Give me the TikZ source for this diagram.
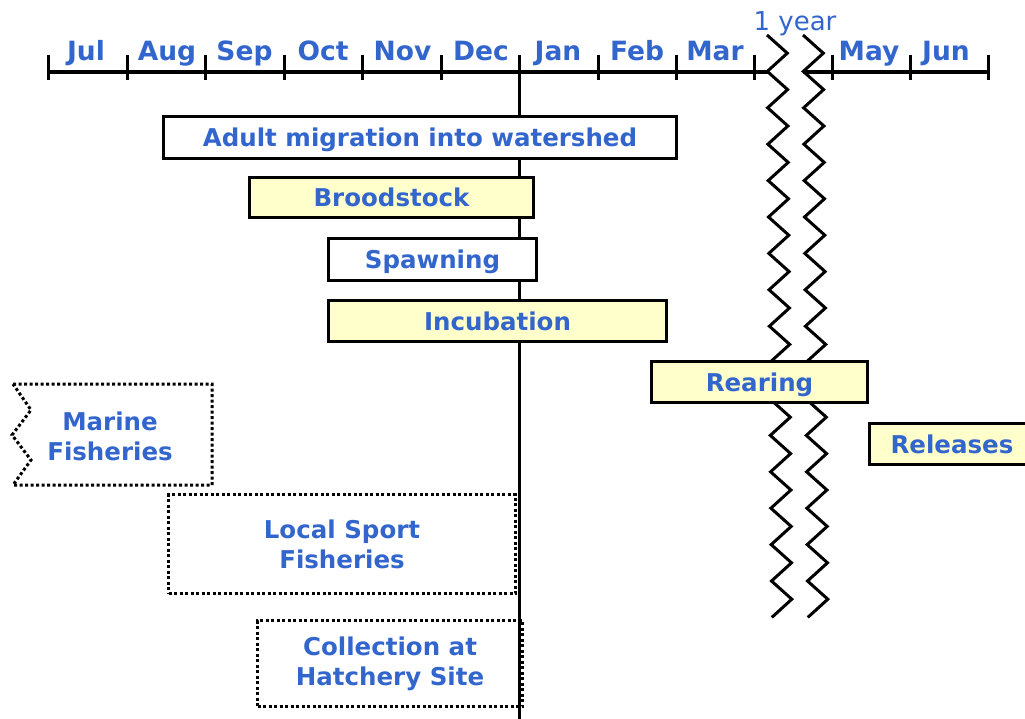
\documentclass[tikz,border=0pt]{standalone}
\usepackage{fontspec}
\setmainfont{DejaVu Sans}
\usepackage{xcolor}
\definecolor{labelblue}{RGB}{51,102,204}
\definecolor{paleyellow}{RGB}{255,255,204}

\begin{document}
\begin{tikzpicture}[x=1pt,y=-1pt,line cap=butt,line join=miter,
  font=\fontsize{24.5}{30}\selectfont\bfseries,
  month/.style={anchor=base,text=labelblue,inner sep=0pt,font=\fontsize{26.5}{30}\selectfont\bfseries},
  phase/.style={draw=black,line width=3.3pt,fill=white,text=labelblue,inner sep=0pt,text height=18pt,text depth=0pt},
  hatch/.style={phase,fill=paleyellow},
  dots/.style={line width=3pt,dash pattern=on 3pt off 2.5pt},
  catchbox/.style={dots,draw=black,text=labelblue,align=center,inner sep=0pt}]
\clip (0,0) rectangle (1025,719);
% time axis
\coordinate (axisL) at (48,72);
\coordinate (breakL) at (768,72);
\coordinate (breakR) at (803,72);
\coordinate (axisR) at (988,72);
\draw[line width=3.3pt] (axisL) -- (breakL);
\draw[line width=3.3pt] (breakR) -- (axisR);
\draw[line width=3pt] (48,55) -- (48,80);
\draw[line width=3pt] (127,55) -- (127,80);
\draw[line width=3pt] (205,55) -- (205,80);
\draw[line width=3pt] (284,55) -- (284,80);
\draw[line width=3pt] (362,55) -- (362,80);
\draw[line width=3pt] (441,55) -- (441,80);
\draw[line width=3pt] (598,55) -- (598,80);
\draw[line width=3pt] (676,55) -- (676,80);
\draw[line width=3pt] (754,55) -- (754,80);
\draw[line width=3pt] (832,55) -- (832,80);
\draw[line width=3pt] (910,55) -- (910,80);
\draw[line width=3pt] (988,55) -- (988,80);
\node[month] (jul) at (86,61) {Jul};
\node[month] (aug) at (167,61) {Aug};
\node[month] (sep) at (244.5,61) {Sep};
\node[month] (oct) at (323,61) {Oct};
\node[month] (nov) at (402.5,61) {Nov};
\node[month] (dec) at (481,61) {Dec};
\node[month] (jan) at (558,61) {Jan};
\node[month] (feb) at (637,61) {Feb};
\node[month] (mar) at (715,61) {Mar};
\node[month] (may) at (869,61) {May};
\node[month] (jun) at (946,61) {Jun};
\node[month,font=\fontsize{26}{30}\selectfont] (year) at (795,31) {1 year};
% new year line
\coordinate (newyear) at (519,55);
\coordinate (bottom) at (519,725);
\draw[line width=3pt] (newyear) -- (bottom);
% break in the time scale
\draw[line width=3pt] (767,35) \foreach \i in {1,...,16} {-- ++(20.3,18.2) -- ++(-20,18.2)};
\draw[line width=3pt] (803,35) \foreach \i in {1,...,16} {-- ++(20.3,18.2) -- ++(-20,18.2)};
% life cycle phases
\node[phase,minimum width=513pt,minimum height=42pt] (migration) at (420,137.5) {Adult migration into watershed};
\node[hatch,minimum width=284pt,minimum height=40pt] (broodstock) at (391.5,197.5) {Broodstock};
\node[phase,minimum width=208pt,minimum height=42pt] (spawning) at (432.5,259.5) {Spawning};
\node[hatch,minimum width=338pt,minimum height=41pt] (incubation) at (497.5,321) {Incubation};
\node[hatch,minimum width=216pt,minimum height=41pt] (rearing) at (759.5,382) {Rearing};
\node[hatch,minimum width=165pt,minimum height=41pt] (releases) at (952,444) {Releases};
% fisheries
\draw[dots] (13,384) -- (212,384) -- (212,485) -- (13,485) -- (31,460) -- (12,435) -- (31,410) -- cycle;
\node[text=labelblue,align=center] (marine) at (110,436) {Marine\\Fisheries};
\node[catchbox,minimum width=347pt,minimum height=99pt] (sport) at (342,544) {Local Sport\\Fisheries};
\node[catchbox,minimum width=265pt,minimum height=86pt] (collection) at (390,663.5) {Collection at\\Hatchery Site};
\end{tikzpicture}
\end{document}
